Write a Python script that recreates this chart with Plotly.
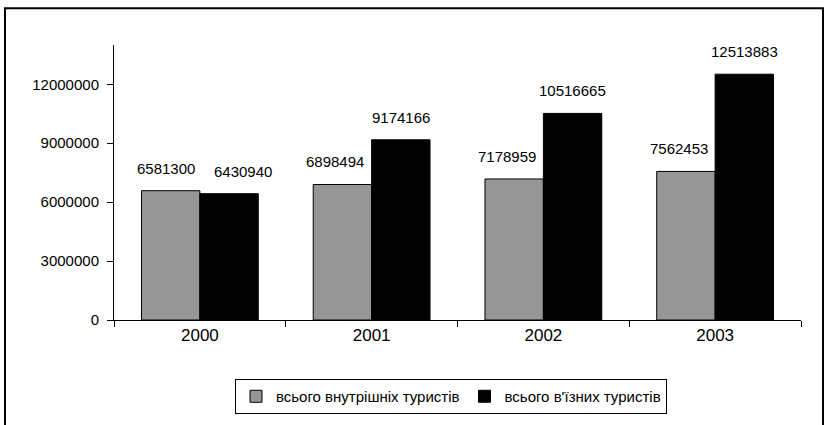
import plotly.graph_objects as go

years = ["2000", "2001", "2002", "2003"]
domestic = [6581300, 6898494, 7178959, 7562453]
inbound = [6430940, 9174166, 10516665, 12513883]
series_names = ["всього внутрішніх туристів", "всього в'їзних туристів"]
y_ticks = [0, 3000000, 6000000, 9000000, 12000000]

W, H = 826, 425
# plot area in screen pixels: x 114..801, y 45..321
ML, MT = 114, 45
MR = W - 801
MB = H - 321
BARGAP = 0.32
FONT = "Liberation Sans, Arial, sans-serif"

fig = go.Figure()
fig.add_trace(go.Bar(x=years, y=domestic, name=series_names[0],
                     marker=dict(color="#969696", line=dict(color="black", width=1))))
fig.add_trace(go.Bar(x=years, y=inbound, name=series_names[1],
                     marker=dict(color="#000000", line=dict(color="black", width=1))))

plot_w = W - ML - MR
plot_h = H - MT - MB
cat_w = plot_w / len(years)
bar_w = cat_w * (1 - BARGAP) / 2
offsets = [-bar_w / 2, bar_w / 2]
# Excel nudged the labels a little to keep them apart
series_nudge = [-7, 0]
extra_nudge = {(0, 0): 2, (1, 0): 14}

for si, vals in enumerate([domestic, inbound]):
    for ci, v in enumerate(vals):
        shift = offsets[si] + series_nudge[si] + extra_nudge.get((si, ci), 0)
        fig.add_annotation(x=ci, y=v, text=str(v), showarrow=False,
                           xshift=shift, yshift=12,
                           yanchor="bottom", font=dict(family=FONT, size=15, color="black"))

# screen pixel -> paper coordinates
def px_x(p):
    return (p - ML) / plot_w

def px_y(p):
    return (H - MB - p) / plot_h

fig.add_shape(type="rect", xref="paper", yref="paper",
              x0=px_x(5), x1=px_x(823), y0=px_y(440), y1=px_y(8),
              line=dict(color="black", width=2), fillcolor="rgba(0,0,0,0)", layer="below")

fig.update_layout(
    width=W, height=H,
    margin=dict(l=ML, r=MR, t=MT, b=MB, pad=0),
    barmode="group", bargap=BARGAP, bargroupgap=0,
    plot_bgcolor="white", paper_bgcolor="white",
    font=dict(family=FONT, size=14, color="black"),
    showlegend=True,
    legend=dict(orientation="h", x=px_x(451), xanchor="center", y=px_y(379), yanchor="top",
                bordercolor="black", borderwidth=1, bgcolor="white",
                font=dict(family=FONT, size=15, color="black"),
                itemwidth=30, tracegroupgap=0, traceorder="normal"),
)
fig.update_xaxes(type="category", range=[-0.5, len(years) - 0.5], showline=True,
                 linecolor="black", linewidth=1,
                 ticks="outside", ticklen=6, tickcolor="black", tickson="boundaries",
                 showgrid=False, tickfont=dict(family=FONT, size=17, color="black"),
                 tickangle=0, fixedrange=True)
fig.update_yaxes(range=[0, 14000000], tickvals=y_ticks, ticktext=[str(t) for t in y_ticks],
                 showline=True, linecolor="black", linewidth=1, ticks="outside", ticklen=6,
                 tickcolor="black", showgrid=False, zeroline=False, fixedrange=True,
                 tickfont=dict(family=FONT, size=15, color="black"), ticklabelstandoff=5)

fig.write_html("out.html", config={"displayModeBar": False},
               post_script="document.body.style.margin='0';document.body.style.overflow='hidden';")
